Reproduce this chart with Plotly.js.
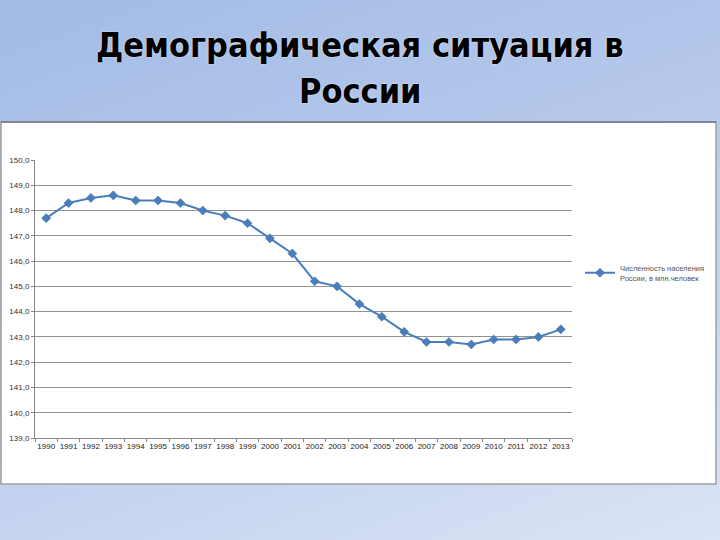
<!DOCTYPE html>
<html>
<head>
<meta charset="utf-8">
<script src="https://cdn.plot.ly/plotly-3.0.1.min.js"></script>
<style>
  html, body { margin:0; padding:0; width:720px; height:540px; overflow:hidden;
    background: linear-gradient(160deg, #a2bbe5 0%, #b7c9ec 45%, #dbe4f5 100%); }
  #chart { width:720px; height:540px; }
</style>
</head>
<body>
<div id="chart"></div>
<script>
const years = ['1990','1991','1992','1993','1994','1995','1996','1997','1998','1999','2000','2001',
               '2002','2003','2004','2005','2006','2007','2008','2009','2010','2011','2012','2013'];
const population = [147.7,148.3,148.5,148.6,148.4,148.4,148.3,148.0,147.8,147.5,146.9,146.3,
                    145.2,145.0,144.3,143.8,143.2,142.8,142.8,142.7,142.9,142.9,143.0,143.3];
const seriesName = 'Численность населения<br>России, в млн.человек';
const yTicks = [139,140,141,142,143,144,145,146,147,148,149,150];
const titleLines = ['Демографическая ситуация в', 'России'];

const trace = {
  x: years, y: population, type: 'scatter', mode: 'lines+markers', name: seriesName,
  line: {color: '#4a7ebb', width: 2},
  marker: {symbol: 'diamond', size: 7, color: '#4a7ebb', line: {color: '#3f6fa8', width: 0.5}}
};

const titleFont = {family: 'DejaVu Sans Condensed, DejaVu Sans', size: 34,
                   color: '#000', weight: 'bold', shadow: '0px 0px 2px rgba(255,255,255,0.8)'};
const H = 278, B = 102;
const py = (p) => (540 - B - p) / H;   // page pixel y -> paper fraction
const px = (p) => (p - 35) / 537;      // page pixel x -> paper fraction

const layout = {
  width: 720, height: 540,
  paper_bgcolor: 'rgba(0,0,0,0)', plot_bgcolor: 'rgba(0,0,0,0)',
  margin: {l: 35, r: 148, t: 160, b: 102},
  separators: ', ',
  showlegend: true,
  annotations: [
    {text: titleLines[0], xref: 'paper', yref: 'paper', x: px(360), y: py(45), xanchor: 'center', yanchor: 'middle',
     showarrow: false, font: titleFont},
    {text: titleLines[1], xref: 'paper', yref: 'paper', x: px(360), y: py(91), xanchor: 'center', yanchor: 'middle',
     showarrow: false, font: titleFont}
  ],
  xaxis: {
    type: 'category', showgrid: false, showline: true, linecolor: '#888', linewidth: 1,
    ticks: 'outside', ticklen: 3, tickcolor: '#888', tickson: 'boundaries', tickangle: 0,
    tickfont: {family: 'Liberation Sans, Arial', size: 8, color: '#222'},
    range: [-0.5, 23.5], fixedrange: true
  },
  yaxis: {
    range: [139, 150], tickvals: yTicks, tickformat: '.1f',
    showgrid: true, gridcolor: '#939393', gridwidth: 1,
    showline: true, linecolor: '#888', linewidth: 1, ticks: 'outside', ticklen: 3, tickcolor: '#888',
    tickfont: {family: 'Liberation Sans, Arial', size: 8, color: '#333'},
    zeroline: false
  },
  legend: {
    xref: 'container', yref: 'container',
    x: 580 / 720, y: 1 - 273 / 540, xanchor: 'left', yanchor: 'middle',
    bgcolor: 'rgba(0,0,0,0)', borderwidth: 0,
    font: {family: 'Liberation Sans, Arial', size: 7.5, color: '#555'},
    itemwidth: 30, tracegroupgap: 0
  },
  shapes: [
    {type: 'rect', xref: 'paper', yref: 'paper', layer: 'below',
     x0: px(1), x1: px(716), y0: py(484), y1: py(122),
     fillcolor: '#ffffff', line: {color: '#a0a0a0', width: 1.5}},
    {type: 'line', xref: 'paper', yref: 'paper', layer: 'below',
     x0: px(1), x1: px(716), y0: py(122), y1: py(122),
     line: {color: '#6f7886', width: 1.5}}
  ]
};

Plotly.newPlot('chart', [trace], layout, {displayModeBar: false, staticPlot: true});
</script>
</body>
</html>
